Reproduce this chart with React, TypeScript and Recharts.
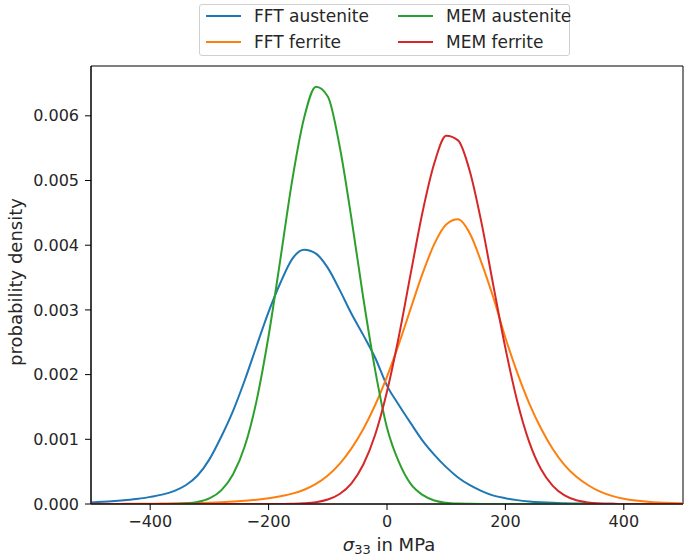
import React from 'react';
import { LineChart, Line, XAxis, YAxis, ReferenceArea } from 'recharts';

const sigma33 = [
  -500, -480, -460, -440, -420, -400, -380, -360, -340, -320,
  -300, -280, -260, -240, -220, -200, -180, -160, -140, -120,
  -100, -80, -60, -40, -20, 0, 20, 40, 60, 80,
  100, 120, 140, 160, 180, 200, 220, 240, 260, 280,
  300, 320, 340, 360, 380, 400, 420, 440, 460, 480, 500,
];

const fftAustenite = [
  0.000025, 0.000033, 0.000045, 0.00006, 0.00008, 0.00011, 0.000145, 0.0002, 0.00029, 0.00044,
  0.00069, 0.00104, 0.00144, 0.00192, 0.00245, 0.00297, 0.00342, 0.00379, 0.00393, 0.00387,
  0.00365, 0.00331, 0.00294, 0.00261, 0.00226, 0.00183, 0.00153, 0.00125, 0.00098, 0.00076,
  0.00057, 0.00041, 0.00029, 0.0002, 0.00013, 0.00009, 0.00006, 0.00004, 0.000027, 0.000018,
  0.000012, 0.000008, 0.000005, 0.000003, 0.000002, 0.000001, 0, 0, 0, 0, 0,
];

const fftFerrite = [
  0, 0, 0.000001, 0.000002, 0.000003, 0.000004, 0.000006, 0.000008, 0.000011, 0.000015,
  0.00002, 0.000028, 0.000038, 0.00005, 0.000067, 0.00009, 0.00012, 0.00016, 0.00022, 0.00031,
  0.00044, 0.00062, 0.00086, 0.00116, 0.00153, 0.00197, 0.00247, 0.00302, 0.00356, 0.00402,
  0.00432, 0.0044, 0.00418, 0.00372, 0.00318, 0.00257, 0.00203, 0.00156, 0.00117, 0.00085,
  0.0006, 0.00042, 0.00029, 0.00019, 0.000125, 0.000082, 0.000054, 0.000036, 0.000024, 0.000016, 0.00001,
];

const memAustenite = [
  0, 0, 0, 0, 0, 0, 0, 0.000003, 0.000011, 0.000033,
  0.000087, 0.00021, 0.00046, 0.0009, 0.00161, 0.0026, 0.00379, 0.00501, 0.00597, 0.00645,
  0.0063, 0.00553, 0.00441, 0.00318, 0.00207, 0.00118, 0.00065, 0.00031, 0.00014, 0.000054,
  0.000019, 0.000006, 0.000002, 0, 0, 0, 0, 0, 0, 0,
  0, 0, 0, 0, 0, 0, 0, 0, 0, 0, 0,
];

const memFerrite = [
  0, 0, 0, 0, 0, 0, 0, 0, 0, 0,
  0, 0, 0, 0, 0, 0, 0, 0.000004, 0.000011, 0.000028,
  0.000069, 0.000155, 0.00032, 0.00061, 0.00107, 0.00174, 0.00259, 0.00356, 0.00451, 0.00527,
  0.00569, 0.00562, 0.00514, 0.00433, 0.00336, 0.00241, 0.00159, 0.000965, 0.00054, 0.00028,
  0.000133, 0.000058, 0.000024, 0.000009, 0.000003, 0, 0, 0, 0, 0, 0,
];

const xTicks = [-400, -200, 0, 200, 400];
const yTicks = [0, 0.001, 0.002, 0.003, 0.004, 0.005, 0.006];

const seriesNames = ['FFT austenite', 'FFT ferrite', 'MEM austenite', 'MEM ferrite'];
const seriesKeys = ['fftAustenite', 'fftFerrite', 'memAustenite', 'memFerrite'];
const seriesColors = ['#1f77b4', '#ff7f0e', '#2ca02c', '#d62728'];
const seriesValues = [fftAustenite, fftFerrite, memAustenite, memFerrite];

const data = sigma33.map((x, i) => {
  const row: Record<string, number> = { x };
  seriesKeys.forEach((k, s) => {
    row[k] = seriesValues[s][i];
  });
  return row;
});

const FONT = '"DejaVu Sans", Verdana, sans-serif';
const TEXT = '#262626';
const Y_MAX = 0.00677;

const XLabel = (props: any) => {
  const vb = props.viewBox || { x: 91, y: 504, width: 592, height: 55 };
  const cx = vb.x + vb.width / 2 + 2;
  const y = vb.y + 47;
  return (
    <text x={cx} y={y} textAnchor="middle" fontFamily={FONT} fontSize={18} fill={TEXT}>
      <tspan fontStyle="italic">σ</tspan>
      <tspan fontSize={13} dy={3}>33</tspan>
      <tspan dy={-3}> in MPa</tspan>
    </text>
  );
};

const YLabel = (props: any) => {
  const vb = props.viewBox || { x: 0, y: 66, width: 91, height: 438 };
  const x = 15;
  const y = vb.y + vb.height / 2 - 3;
  return (
    <text
      x={x}
      y={y}
      transform={`rotate(-90, ${x}, ${y})`}
      textAnchor="middle"
      dominantBaseline="central"
      fontFamily={FONT}
      fontSize={18}
      fill={TEXT}
    >
      probability density
    </text>
  );
};

const legendPos = [
  { left: 6, top: 11 },
  { left: 6, top: 37 },
  { left: 198, top: 11 },
  { left: 198, top: 37 },
];

const Legend = () => (
  <div
    style={{
      position: 'absolute',
      left: 199,
      top: 4,
      width: 371,
      height: 52,
      border: '1px solid #d0d0d0',
      borderRadius: 3,
      background: 'rgba(255,255,255,0.85)',
      boxSizing: 'border-box',
      fontFamily: FONT,
      fontSize: 17,
      color: TEXT,
    }}
  >
    {seriesNames.map((name, i) => (
      <div
        key={name}
        style={{
          position: 'absolute',
          left: legendPos[i].left,
          top: legendPos[i].top - 11,
          height: 22,
          display: 'flex',
          alignItems: 'center',
          whiteSpace: 'nowrap',
        }}
      >
        <span
          style={{
            display: 'inline-block',
            width: 35,
            height: 2,
            background: seriesColors[i],
            marginRight: 13,
          }}
        />
        <span style={{ lineHeight: '22px' }}>{name}</span>
      </div>
    ))}
  </div>
);

export default function App() {
  return (
    <div style={{ position: 'absolute', left: 0, top: 0, width: 685, height: 559, background: '#fff' }}>
      <LineChart
        width={685}
        height={559}
        data={data}
        margin={{ top: 66, right: 2, bottom: 0, left: 0 }}
      >
        <XAxis
          type="number"
          dataKey="x"
          domain={[-500, 500]}
          ticks={xTicks}
          allowDataOverflow
          height={55}
          tickSize={6}
          tickMargin={6}
          tickFormatter={(v: number) => (v < 0 ? '\u2212' + Math.abs(v) : String(v))}
          axisLine={{ stroke: '#000', strokeWidth: 1 }}
          tickLine={{ stroke: '#000', strokeWidth: 1 }}
          tick={{ fontSize: 16, fill: TEXT, fontFamily: FONT }}
          label={<XLabel />}
        />
        <YAxis
          type="number"
          domain={[0, Y_MAX]}
          ticks={yTicks}
          allowDataOverflow
          width={91}
          tickSize={6}
          tickMargin={6}
          tickFormatter={(v: number) => v.toFixed(3)}
          axisLine={{ stroke: '#000', strokeWidth: 1 }}
          tickLine={{ stroke: '#000', strokeWidth: 1 }}
          tick={{ fontSize: 16, fill: TEXT, fontFamily: FONT }}
          label={<YLabel />}
        />
        <ReferenceArea
          x1={-500}
          x2={500}
          y1={0}
          y2={Y_MAX}
          fill="none"
          fillOpacity={0}
          stroke="#000"
          strokeWidth={1}
        />
        {seriesKeys.map((k, i) => (
          <Line
            key={k}
            type="monotone"
            dataKey={k}
            name={seriesNames[i]}
            stroke={seriesColors[i]}
            strokeWidth={2}
            dot={false}
            activeDot={false}
            isAnimationActive={false}
          />
        ))}
      </LineChart>
      <Legend />
    </div>
  );
}
